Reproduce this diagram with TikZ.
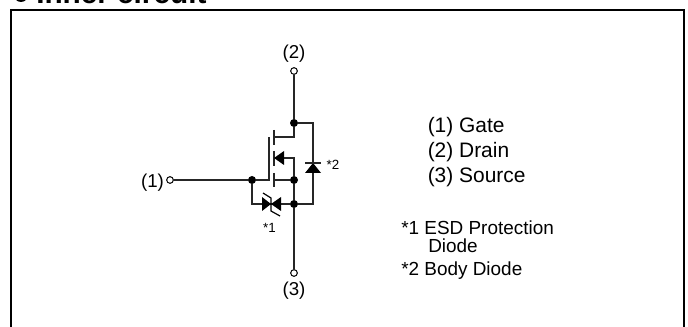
\documentclass[tikz,border=0pt]{standalone}
\usepackage{fontspec}
\setmainfont{Liberation Sans}
\usetikzlibrary{arrows}
\begin{document}
\begin{tikzpicture}[x=0.75pt,y=-0.75pt]

\tikzset{dot/.style = {shape=circle,fill=black,inner sep=0pt,minimum size=6pt}}
\tikzset{terminal/.style = {shape=circle,draw,fill=white,line width=0.75pt,inner sep=0pt,minimum size=5pt}}
\tikzset{wire/.style = {line width=1.1pt,draw=black!85}}
\tikzset{solid tri/.style = {fill=black}}
\tikzset{pin/.style = {inner sep=0pt,anchor=base,font=\fontsize{14}{16}\selectfont}}
\tikzset{note/.style = {inner sep=0pt,anchor=base,font=\fontsize{10}{12}\selectfont}}
\tikzset{legend/.style = {inner sep=0pt,anchor=base west,font=\fontsize{15.7}{18}\selectfont}}
\tikzset{remark/.style = {inner sep=0pt,anchor=base west,font=\fontsize{14.2}{16}\selectfont}}

\clip (0,0) rectangle (688,327);

% heading
\node[shape=circle,fill=black,inner sep=0pt,minimum size=10.5pt] (bullet) at (21,-5) {};
\node[inner sep=0pt,anchor=base west,font=\fontsize{22.3}{26}\bfseries\selectfont] (title) at (36,4) {Inner circuit};
% frame
\coordinate (fa) at (11,340);
\coordinate (fb) at (11,10);
\coordinate (fc) at (684,10);
\coordinate (fd) at (684,340);
\draw[line width=1.9pt] (fa) -- (fb) -- (fc) -- (fd);

% terminals
\node[terminal] (t2) at (294,71) {};
\node[terminal] (t3) at (294,273) {};
\node[terminal] (t1) at (170,180) {};
% junctions
\node[dot] (jd) at (294,123) {};
\node[dot] (js) at (294,180) {};
\node[dot] (jb) at (294,204) {};
\node[dot] (jg) at (252,180) {};
% corner points
\coordinate (gt) at (269,137);
\coordinate (gb) at (269,180);
\coordinate (dr) at (274,137);
\coordinate (dc) at (294,137);
\coordinate (sr) at (274,180);
\coordinate (bc) at (274,158);
\coordinate (bk) at (294,158);
\coordinate (ra) at (313,123);
\coordinate (rb) at (313,204);
\coordinate (ec) at (252,204);
\coordinate (chaa) at (274,130);
\coordinate (chab) at (274,145);
\coordinate (chba) at (274,151);
\coordinate (chbb) at (274,166);
\coordinate (chca) at (274,173);
\coordinate (chcb) at (274,187);

% edges
\draw[wire] (t2) -- (jd);
\draw[wire] (jd) -- (dc) -- (dr);
\draw[wire] (jd) -- (ra) -- (rb) -- (jb);
\draw[wire] (js) -- (sr);
\draw[wire] (bc) -- (bk) -- (js);
\draw[wire] (js) -- (jb);
\draw[wire] (jb) -- (t3);
\draw[wire] (t1) -- (jg);
\draw[wire] (jg) -- (gb) -- (gt);
\draw[wire] (jg) -- (ec) -- (jb);
\draw[wire] (chaa) -- (chab);
\draw[wire] (chba) -- (chbb);
\draw[wire] (chca) -- (chcb);

% diodes
\fill[solid tri] (274,158) -- (284,151) -- (284,165) -- cycle;
\fill[solid tri] (313,163) -- (305,173) -- (321,173) -- cycle;
\draw[wire] (305,163) -- (321,163);
\fill[solid tri] (271,204) -- (262,197) -- (262,211) -- cycle;
\fill[solid tri] (271,204) -- (281,197) -- (281,211) -- cycle;
\draw[line width=0.9pt] (263,193) -- (271,198) -- (271,211) -- (280,216);

% labels
\node[pin] (l2) at (294,59) {(2)};
\node[pin] (l3) at (294,296) {(3)};
\node[pin] (l1) at (152.5,187.5) {(1)};
\node[note] (n1) at (269.5,233) {*1};
\node[note] (n2) at (333,170) {*2};
\node[legend] (gate) at (427.5,133) {(1) Gate};
\node[legend] (drain) at (427.5,158) {(2) Drain};
\node[legend] (source) at (427.5,183) {(3) Source};
\node[remark] (esd) at (401,235) {*1 ESD Protection};
\node[remark] (esdb) at (428,253) {Diode};
\node[remark] (body) at (401,276) {*2 Body Diode};
\end{tikzpicture}
\end{document}
